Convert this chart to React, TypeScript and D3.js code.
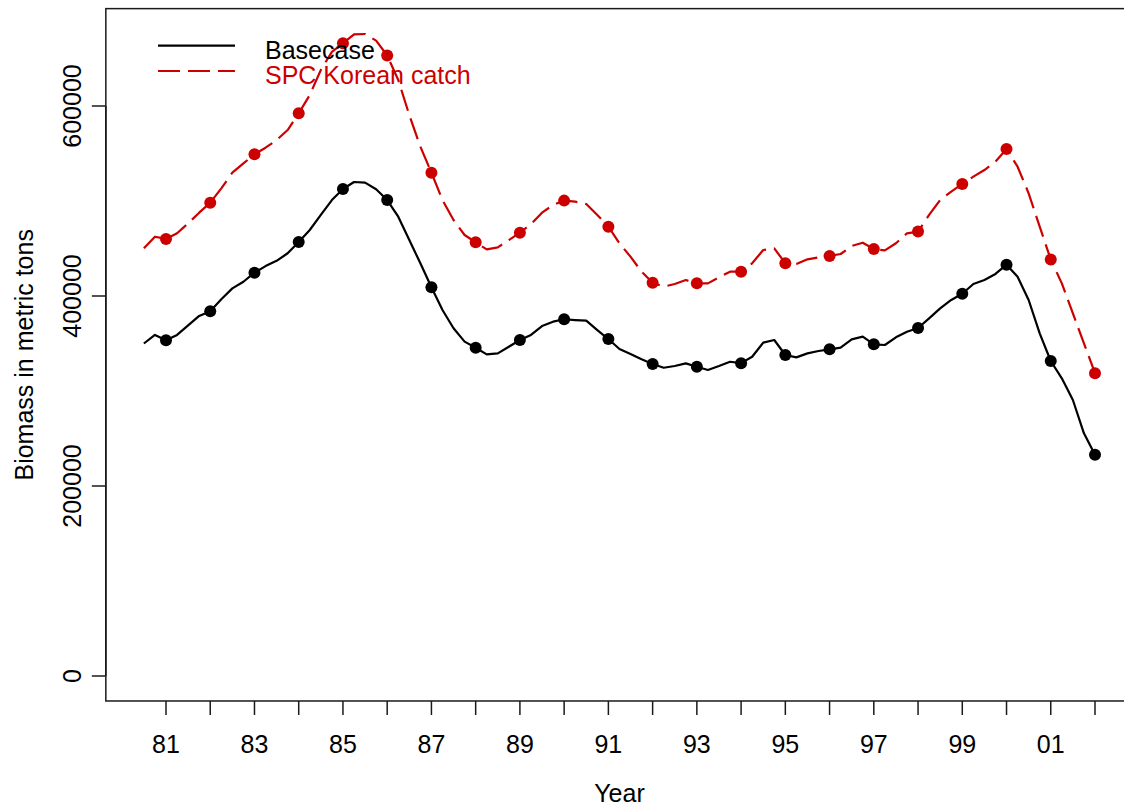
import React from "react";
import * as d3 from "d3";

// Quarterly time steps from 1980.5 to 2002.0
const startYear = 1980.5;
const step = 0.25;

// Basecase biomass (metric tons), quarterly
const basecase = [
  350000, 359000,
  353500, 359000, 369000, 379000,
  384000, 396500, 408000, 415000,
  424500, 431500, 437000, 445000,
  456800, 469500, 485300, 501000,
  512600, 520000, 519300, 512300,
  501000, 483500, 459000, 434400,
  409300, 385300, 366000, 352000,
  345500, 338600, 339600, 346600,
  353700, 359000, 368400, 373000,
  375500, 374700, 374000, 364000,
  354700, 344200, 339000, 333400,
  328500, 324500, 326300, 329100,
  325600, 322100, 326300, 330800,
  329300, 336100, 350900, 353700,
  337900, 335400, 339600, 342100,
  343900, 345600, 354400, 357200,
  349100, 348400, 356500, 362400,
  366300, 376500, 387000, 395800,
  402400, 412600, 416800, 423200,
  433000, 420300, 395800, 360700,
  331600, 313300, 290500, 255400,
  232800,
];

// SPC Korean catch scenario biomass (metric tons), quarterly
const spcKorean = [
  450200, 462400,
  460000, 466000, 476500, 487700,
  498200, 513300, 529800, 539600,
  549100, 556100, 564200, 574700,
  592300, 611600, 637900, 657000,
  666000, 675400, 675800, 668800,
  653200, 627400, 590500, 557200,
  529800, 501000, 480000, 464200,
  456500, 449100, 451200, 458900,
  466700, 475500, 487700, 495800,
  500400, 499300, 496800, 485300,
  473000, 455400, 441400, 425600,
  414000, 409800, 412600, 416800,
  413300, 413300, 419600, 425600,
  425600, 434400, 448400, 450200,
  434400, 433700, 438600, 440700,
  442200, 444200, 452600, 456100,
  449500, 448000, 455500, 466000,
  467800, 485300, 501000, 509800,
  518000, 525600, 532600, 541400,
  554700, 536100, 508100, 473000,
  438400, 413300, 381800, 350200,
  318700,
];

const xTickYears = d3.range(1981, 2003);
const xLabelYears = d3.range(1981, 2003, 2);
const yTicks = [0, 200000, 400000, 600000];
const seriesNames = ["Basecase", "SPC Korean catch"];
const seriesColors = ["#000000", "#CD0000"];

const W = 1124;
const H = 808;
const FONT = "'Liberation Sans', Arial, Helvetica, sans-serif";

export default function App() {
  const x = d3.scaleLinear().domain([1981, 2002]).range([166, 1095]);
  const y = d3.scaleLinear().domain([0, 600000]).range([676, 106]);

  const plotLeft = x(1979.64);
  const plotRight = x(2002.86);
  const plotTop = y(702500);
  const plotBottom = y(-26300);

  const toPts = (arr: number[]) =>
    arr.map((v, i) => ({ t: startYear + i * step, v }));
  const series = [toPts(basecase), toPts(spcKorean)];

  const line = d3
    .line<{ t: number; v: number }>()
    .x((d) => x(d.t))
    .y((d) => y(d.v))
    .curve(d3.curveLinear);

  const isYear = (t: number) => Math.abs(t - Math.round(t)) < 1e-6;

  return (
    <svg
      width={W}
      height={H}
      style={{ position: "absolute", left: 0, top: 0, background: "#fff" }}
      fontFamily={FONT}
    >
      <rect x={0} y={0} width={W} height={H} fill="#fff" />
      {/* plot box */}
      <rect
        x={plotLeft}
        y={plotTop}
        width={plotRight - plotLeft}
        height={plotBottom - plotTop}
        fill="none"
        stroke="#1a1a1a"
        strokeWidth={1.5}
      />
      {/* x axis ticks */}
      {xTickYears.map((yr) => (
        <line
          key={"xt" + yr}
          x1={x(yr)}
          x2={x(yr)}
          y1={plotBottom}
          y2={plotBottom + 14}
          stroke="#1a1a1a"
          strokeWidth={1.5}
        />
      ))}
      {xLabelYears.map((yr) => (
        <text
          key={"xl" + yr}
          x={x(yr)}
          y={752.5}
          fontSize={25}
          textAnchor="middle"
          fill="#000"
        >
          {String(yr % 100).padStart(2, "0")}
        </text>
      ))}
      {/* y axis */}
      <line
        x1={plotLeft}
        x2={plotLeft}
        y1={y(0)}
        y2={y(600000)}
        stroke="#1a1a1a"
        strokeWidth={1.5}
      />
      {yTicks.map((v) => (
        <g key={"yt" + v}>
          <line
            x1={plotLeft - 14}
            x2={plotLeft}
            y1={y(v)}
            y2={y(v)}
            stroke="#1a1a1a"
            strokeWidth={1.5}
          />
          <text
            transform={`translate(${80.5},${y(v)}) rotate(-90)`}
            fontSize={25}
            textAnchor="middle"
            fill="#000"
          >
            {String(v)}
          </text>
        </g>
      ))}
      {/* axis titles */}
      <text x={619.5} y={801.5} fontSize={25} textAnchor="middle" fill="#000">
        Year
      </text>
      <text
        transform={`translate(${33},${(plotTop + plotBottom) / 2}) rotate(-90)`}
        fontSize={25}
        textAnchor="middle"
        fill="#000"
      >
        Biomass in metric tons
      </text>
      {/* series lines */}
      {series.map((s, i) => (
        <path
          key={"line" + i}
          d={line(s) || ""}
          fill="none"
          stroke={seriesColors[i]}
          strokeWidth={2.2}
          strokeDasharray={i === 1 ? "22,8" : undefined}
          strokeLinejoin="round"
        />
      ))}
      {/* markers at whole years */}
      {series.map((s, i) =>
        s
          .filter((d) => isYear(d.t))
          .map((d) => (
            <circle
              key={"pt" + i + "-" + d.t}
              cx={x(d.t)}
              cy={y(d.v)}
              r={6}
              fill={seriesColors[i]}
            />
          ))
      )}
      {/* legend */}
      {seriesNames.map((name, i) => (
        <g key={"leg" + i}>
          <line
            x1={158}
            x2={235}
            y1={45.7 + i * 25.3}
            y2={45.7 + i * 25.3}
            stroke={seriesColors[i]}
            strokeWidth={2.2}
            strokeDasharray={i === 1 ? "22,8" : undefined}
          />
          <text
            x={265}
            y={59.3 + i * 24.2}
            fontSize={25}
            fill={seriesColors[i]}
          >
            {name}
          </text>
        </g>
      ))}
    </svg>
  );
}
